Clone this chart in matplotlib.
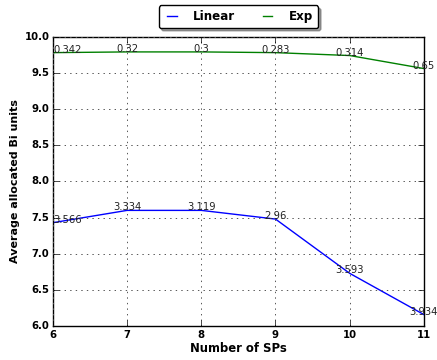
import matplotlib
matplotlib.use("Agg")
import matplotlib.pyplot as plt

plt.style.use("classic")

sps = [6, 7, 8, 9, 10, 11]
linear = [7.43, 7.60, 7.60, 7.48, 6.73, 6.16]
expo = [9.78, 9.79, 9.79, 9.78, 9.74, 9.56]
linear_labels = ["3.566", "3.334", "3.119", "2.96", "3.593", "3.934"]
exp_labels = ["0.342", "0.32", "0.3", "0.283", "0.314", "0.65"]
xticks = [6, 7, 8, 9, 10, 11]
yticks = [6.0, 6.5, 7.0, 7.5, 8.0, 8.5, 9.0, 9.5, 10.0]

fig = plt.figure(figsize=(4.37, 3.6), dpi=100, facecolor="white")
ax = fig.add_axes([0.121, 0.094, 0.849, 0.804])
ax.set_facecolor("white")

ax.plot(sps, linear, color="b", lw=1, label="Linear")
ax.plot(sps, expo, color="g", lw=1, label="Exp")

for i, (x, y, t) in enumerate(zip(sps, linear, linear_labels)):
    ha = "left" if i == 0 else "center"
    ax.text(x, y, t, ha=ha, va="baseline", fontsize=7.2, color="#222222")
for i, (x, y, t) in enumerate(zip(sps, expo, exp_labels)):
    ha = "left" if i == 0 else "center"
    ax.text(x, y, t, ha=ha, va="baseline", fontsize=7.2, color="#222222")

ax.set_xlim(6, 11)
ax.set_ylim(6.0, 10.0)
ax.set_xticks(xticks)
ax.set_yticks(yticks)
ax.set_xticklabels([str(v) for v in xticks], fontsize=7.3, fontweight="bold")
ax.set_yticklabels([f"{v:.1f}" for v in yticks], fontsize=7.3, fontweight="bold")
ax.tick_params(axis="both", which="major", pad=2.5)
ax.grid(True, linestyle=":", color="#555555", lw=0.7)
ax.set_xlabel("Number of SPs", fontsize=8.4, fontweight="bold", labelpad=2)
ax.set_ylabel("Average allocated Bi units", fontsize=8.0, fontweight="bold", labelpad=3)

leg = ax.legend(loc="lower center", bbox_to_anchor=(0.5, 1.03), ncol=2,
                fancybox=True, shadow=True, prop={"size": 8.6, "weight": "bold"},
                handlelength=1.4, handletextpad=1.1, columnspacing=2.0,
                borderaxespad=0.0, borderpad=0.4)

fig.savefig("out.png", dpi=100, facecolor="white")
